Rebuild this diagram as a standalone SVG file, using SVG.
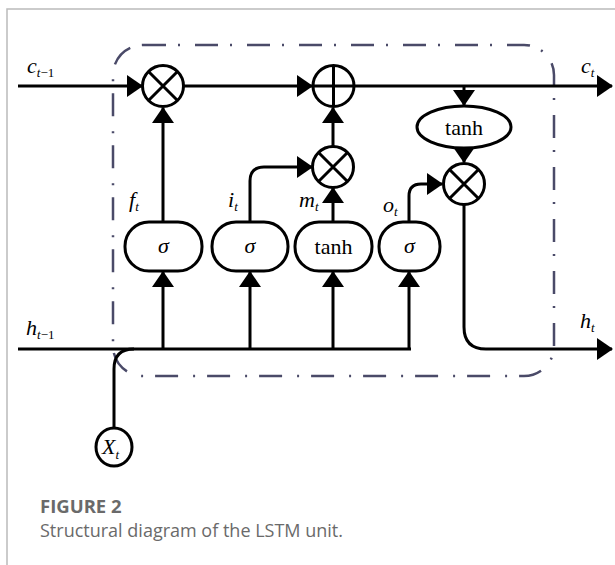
<svg xmlns="http://www.w3.org/2000/svg" width="615" height="565" viewBox="0 0 615 565">
<style>
.ln{fill:none;stroke:#000;stroke-width:3}
.nd{fill:#fff;stroke:#000;stroke-width:3}
.lbl{font-family:"Liberation Serif",serif;font-style:italic;font-size:22px;fill:#000}
.sub{font-size:13px}
.up{font-style:normal}
.txt{font-family:"Liberation Serif",serif;font-size:22px;fill:#000;text-anchor:middle}
.dash{fill:none;stroke:#4a4a68;stroke-width:2.5;stroke-dasharray:23 12 2 15}
.cap{font-family:"Open Sans","Noto Sans",sans-serif;fill:#6a6a6a}
</style>
<defs>
<marker id="ah" markerUnits="userSpaceOnUse" markerWidth="16" markerHeight="22" viewBox="0 0 16 22" refX="15" refY="11" orient="auto">
<path d="M0,0 L16,11 L0,22 z" fill="#000"/>
</marker>
</defs>
<rect x="0" y="0" width="615" height="565" fill="#fff"/>
<path d="M7,565 V9 H615" fill="none" stroke="#bbb" stroke-width="1.5"/>
<rect class="dash" x="113" y="45" width="441" height="331" rx="30" ry="30"/>
<g id="connectors">
<path class="ln" d="M18,86 H142" marker-end="url(#ah)"/>
<path class="ln" d="M184,86 H312" marker-end="url(#ah)"/>
<path class="ln" d="M354,86 H612" marker-end="url(#ah)"/>
<path class="ln" d="M163,222 V108" marker-end="url(#ah)"/>
<path class="ln" d="M250,222 V181 Q250,167 264,167 H312" marker-end="url(#ah)"/>
<path class="ln" d="M333,222 V188" marker-end="url(#ah)"/>
<path class="ln" d="M333,146 V108" marker-end="url(#ah)"/>
<path class="ln" d="M464,86 V105" marker-end="url(#ah)"/>
<path class="ln" d="M464,148 V162" marker-end="url(#ah)"/>
<path class="ln" d="M409,222 V196 Q409,184 421,184 H442" marker-end="url(#ah)"/>
<path class="ln" d="M464,205 V327 Q464,349 486,349 H612" marker-end="url(#ah)"/>
<path class="ln" d="M18,349 H411"/>
<path class="ln" d="M114,428 V369 Q114,349 134,349"/>
<path class="ln" d="M163,349 V272" marker-end="url(#ah)"/>
<path class="ln" d="M250,349 V272" marker-end="url(#ah)"/>
<path class="ln" d="M333,349 V272" marker-end="url(#ah)"/>
<path class="ln" d="M409,349 V272" marker-end="url(#ah)"/>
</g>
<g id="forget_mul">
<circle class="nd" cx="163" cy="86" r="20.5"/>
<path class="ln" d="M148.5,71.5 L177.5,100.5 M177.5,71.5 L148.5,100.5"/>
</g>
<g id="cell_add">
<circle class="nd" cx="333.5" cy="86" r="20.5"/>
<path class="ln" d="M333.5,65.5 V106.5 M313,86 H354"/>
</g>
<g id="input_mul">
<circle class="nd" cx="333" cy="167" r="20.5"/>
<path class="ln" d="M318.5,152.5 L347.5,181.5 M347.5,152.5 L318.5,181.5"/>
</g>
<g id="tanh_out">
<ellipse class="nd" cx="464" cy="127" rx="47" ry="21"/>
<text class="txt" x="464" y="135">tanh</text>
</g>
<g id="output_mul">
<circle class="nd" cx="464" cy="184" r="20.5"/>
<path class="ln" d="M449.5,169.5 L478.5,198.5 M478.5,169.5 L449.5,198.5"/>
</g>
<g id="sigma_f">
<rect class="nd" x="125" y="222" width="77" height="49" rx="24" ry="24"/>
<text class="txt" x="163.5" y="253" font-style="italic">σ</text>
</g>
<g id="sigma_i">
<rect class="nd" x="212" y="222" width="76" height="49" rx="24" ry="24"/>
<text class="txt" x="250" y="253" font-style="italic">σ</text>
</g>
<g id="tanh_m">
<rect class="nd" x="295" y="222" width="77" height="49" rx="24" ry="24"/>
<text class="txt" x="333.5" y="254">tanh</text>
</g>
<g id="sigma_o">
<rect class="nd" x="379" y="222" width="61" height="49" rx="24" ry="24"/>
<text class="txt" x="409.5" y="253" font-style="italic">σ</text>
</g>
<g id="input_x">
<ellipse class="nd" cx="114" cy="447" rx="18" ry="19"/>
<text class="lbl" x="102" y="454" font-size="21">X<tspan class="sub" dy="5">t</tspan></text>
</g>
<g id="labels">
<text class="lbl" x="27" y="73">c<tspan class="sub" dy="4">t</tspan><tspan class="sub up">−1</tspan></text>
<text class="lbl" x="581" y="73">c<tspan class="sub" dy="4">t</tspan></text>
<text class="lbl" x="129" y="207">f<tspan class="sub" dy="4">t</tspan></text>
<text class="lbl" x="228" y="207">i<tspan class="sub" dy="4">t</tspan></text>
<text class="lbl" x="299" y="207">m<tspan class="sub" dy="4">t</tspan></text>
<text class="lbl" x="383" y="212">o<tspan class="sub" dy="4">t</tspan></text>
<text class="lbl" x="26" y="335">h<tspan class="sub" dy="4">t</tspan><tspan class="sub up">−1</tspan></text>
<text class="lbl" x="580" y="328">h<tspan class="sub" dy="4">t</tspan></text>
</g>
<text class="cap" x="40" y="513" font-size="18.5" font-weight="bold">FIGURE 2</text>
<text class="cap" x="40" y="537" font-size="18">Structural diagram of the LSTM unit.</text>
</svg>
